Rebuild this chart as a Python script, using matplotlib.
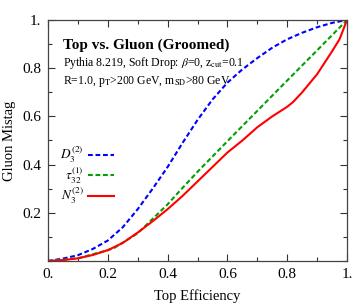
import matplotlib
matplotlib.use("Agg")
import matplotlib.pyplot as plt
from matplotlib.ticker import MultipleLocator, FixedFormatter, FixedLocator

plt.rcParams['font.family'] = ['Liberation Serif', 'DejaVu Serif']
plt.rcParams['mathtext.fontset'] = 'stix'

# D3^(2) curve
d3_x = [0, 0.05, 0.1, 0.15, 0.2, 0.25, 0.3, 0.35, 0.4, 0.45, 0.5, 0.55, 0.6, 0.65, 0.7,
        0.75, 0.8, 0.85, 0.9, 0.95, 1.0]
d3_y = [0, 0.01, 0.024, 0.05, 0.085, 0.14, 0.215, 0.30, 0.39, 0.49, 0.585, 0.67, 0.74, 0.795, 0.842,
        0.885, 0.92, 0.947, 0.97, 0.988, 1.0]

# tau32^(1) curve
t32_x = [0, 0.1, 0.2, 0.22, 0.3, 0.4, 0.44, 0.5, 0.6, 0.7, 0.8, 0.9, 1.0]
t32_y = [0, 0.011, 0.045, 0.053, 0.115, 0.235, 0.29, 0.37, 0.497, 0.623, 0.749, 0.874, 1.0]

# N3^(2) curve
n3_x = [0, 0.05, 0.1, 0.15, 0.2, 0.25, 0.3, 0.35, 0.4, 0.45, 0.5, 0.55, 0.6, 0.65, 0.7,
        0.75, 0.8, 0.82, 0.85, 0.9, 0.95, 0.975, 1.0]
n3_y = [0, 0.004, 0.011, 0.025, 0.045, 0.075, 0.118, 0.165, 0.215, 0.27, 0.33, 0.39, 0.45, 0.50, 0.555,
        0.60, 0.64, 0.66, 0.70, 0.775, 0.87, 0.92, 1.0]

fig = plt.figure(figsize=(3.54, 3.06), dpi=100)
ax = fig.add_axes([48/354, 1 - 261/306, 299/354, 241/306])

ax.plot(d3_x, d3_y, color='#0000ff', lw=1.5, dashes=(2.3, 1.3), label=r'$D_3^{(2)}$')
ax.plot(t32_x, t32_y, color='#00a000', lw=1.5, dashes=(2.3, 1.3), label=r'$\tau_{32}^{(1)}$')
ax.plot(n3_x, n3_y, color='#ff0000', lw=1.5, label=r'$N_3^{(2)}$')

ax.set_xlim(0, 1)
ax.set_ylim(0, 1)
ax.xaxis.set_major_locator(FixedLocator([0, 0.2, 0.4, 0.6, 0.8, 1.0]))
ax.xaxis.set_major_formatter(FixedFormatter(['0.', '0.2', '0.4', '0.6', '0.8', '1.']))
ax.yaxis.set_major_locator(FixedLocator([0.2, 0.4, 0.6, 0.8, 1.0]))
ax.yaxis.set_major_formatter(FixedFormatter(['0.2', '0.4', '0.6', '0.8', '1.']))
ax.xaxis.set_minor_locator(MultipleLocator(0.1))
ax.yaxis.set_minor_locator(MultipleLocator(0.1))
ax.tick_params(which='both', direction='in', top=True, right=True, labelsize=11, color='#333333')
ax.tick_params(which='major', length=5, width=0.8, pad=5)
ax.tick_params(which='minor', length=3, width=0.8)
for s in ax.spines.values():
    s.set_color('#444444')
    s.set_linewidth(0.9)

ax.set_xlabel('Top Efficiency', fontsize=10.5, labelpad=6)
ax.set_ylabel('Gluon Mistag', fontsize=10.5, labelpad=4)

ax.text(0.05, 0.895, 'Top vs. Gluon (Groomed)', transform=ax.transAxes,
        fontsize=11, fontweight='bold', va='center')
ax.text(0.05, 0.82, r'Pythia 8.219, Soft Drop: $\beta$=0, z$_\mathrm{cut}$=0.1',
        transform=ax.transAxes, fontsize=8.5, va='center')
ax.text(0.05, 0.745, r'R=1.0, p$_\mathrm{T}$>200 GeV, m$_\mathrm{SD}$>80 GeV',
        transform=ax.transAxes, fontsize=8.5, va='center')

leg = ax.legend(loc='upper left', bbox_to_anchor=(0.01, 0.52), markerfirst=False, frameon=False,
                fontsize=9.5, handlelength=2.0, handletextpad=0.3, labelspacing=0.0,
                borderaxespad=0.3)

fig.savefig('out.png', dpi=100)
